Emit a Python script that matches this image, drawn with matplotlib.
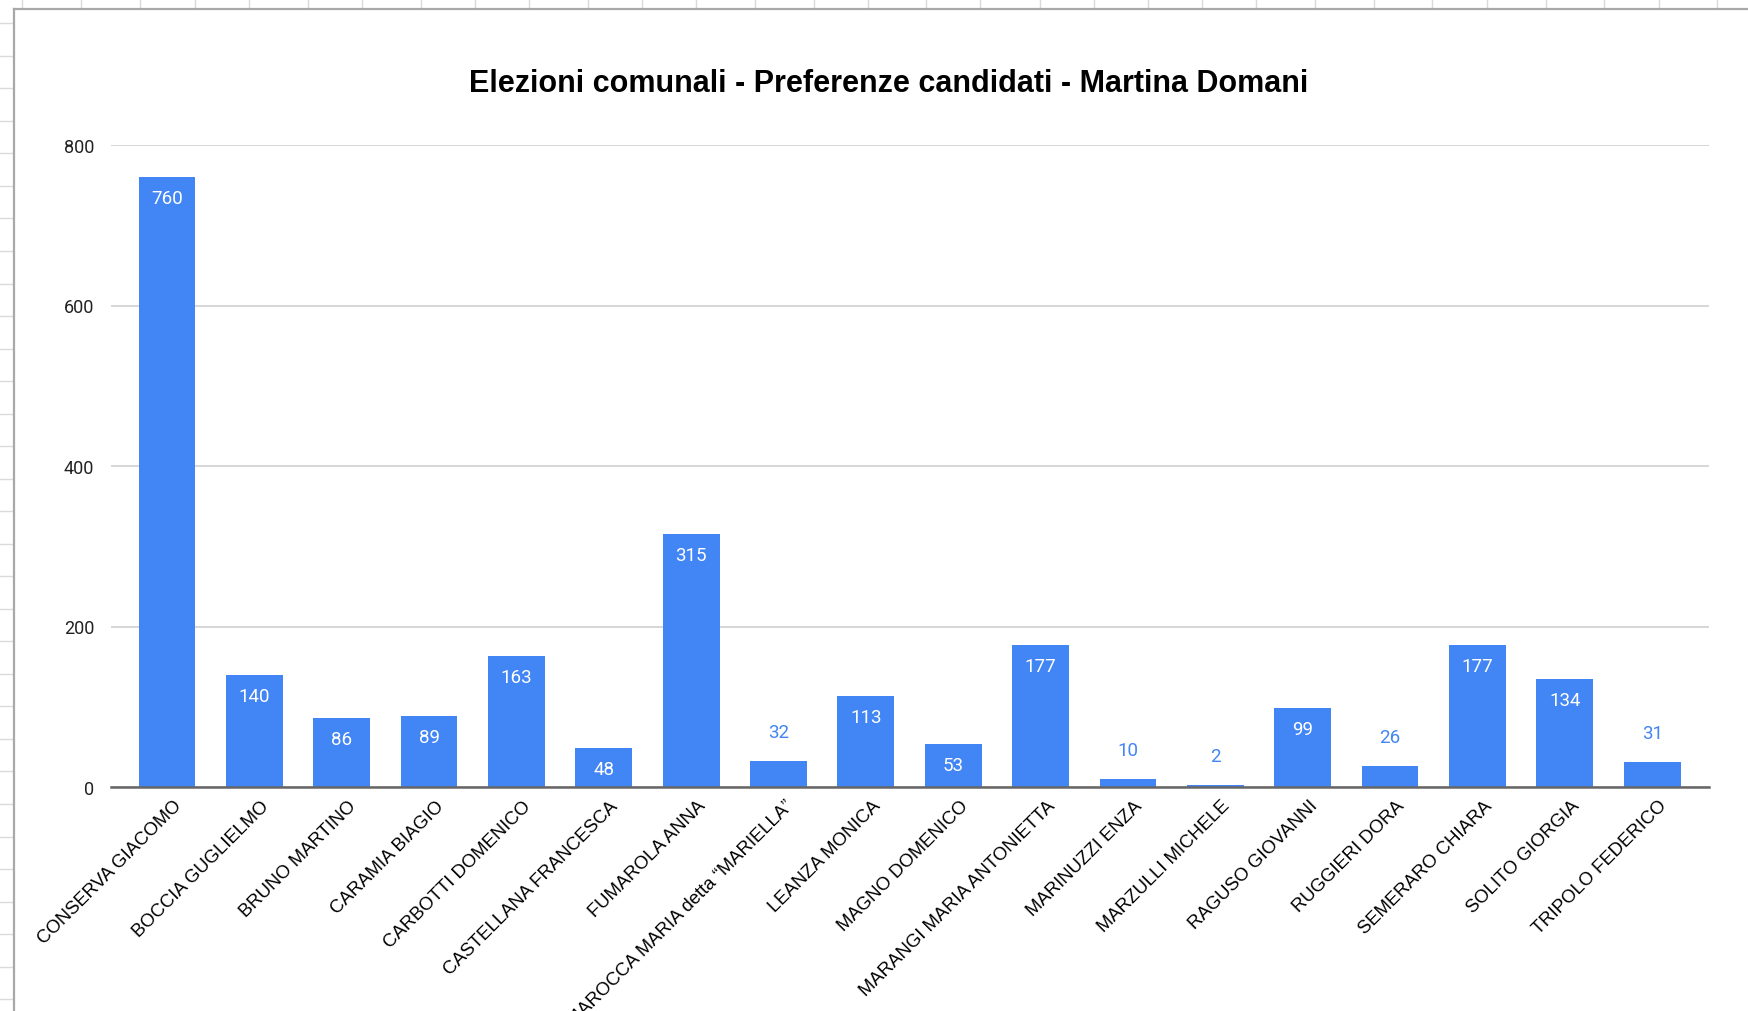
import matplotlib.pyplot as plt
from matplotlib.lines import Line2D
import matplotlib.transforms as mtransforms

candidati = [
    'CONSERVA GIACOMO', 'BOCCIA GUGLIELMO', 'BRUNO MARTINO', 'CARAMIA BIAGIO',
    'CARBOTTI DOMENICO', 'CASTELLANA FRANCESCA', 'FUMAROLA ANNA',
    'MAROCCA MARIA detta \u201cMARIELLA\u201d', 'LEANZA MONICA', 'MAGNO DOMENICO',
    'MARANGI MARIA ANTONIETTA', 'MARINUZZI ENZA', 'MARZULLI MICHELE',
    'RAGUSO GIOVANNI', 'RUGGIERI DORA', 'SEMERARO CHIARA', 'SOLITO GIORGIA',
    'TRIPOLO FEDERICO',
]
preferenze = [760, 140, 86, 89, 163, 48, 315, 32, 113, 53, 177, 10, 2, 99, 26, 177, 134, 31]
y_ticks = [0, 200, 400, 600, 800]

W, H = 1748, 1012
blu = '#4285f4'

fig = plt.figure(figsize=(W / 100, H / 100), dpi=100)
fig.patch.set_facecolor('white')

# griglia del foglio di calcolo dietro al grafico
col_x = [22, 81, 140, 195, 249, 308, 362, 421, 475, 529, 588, 642, 696, 755, 814, 868,
         926, 980, 1040, 1094, 1148, 1202, 1256, 1315, 1374, 1432, 1487, 1546, 1604,
         1659, 1717]
for cx in col_x:
    fig.add_artist(Line2D([cx / W, cx / W], [1, 1 - 10 / H], color='#dadada', lw=1))
for k in range(32):
    ry = 24.3 + 32.53 * k
    fig.add_artist(Line2D([0, 13 / W], [1 - ry / H, 1 - ry / H], color='#dadada', lw=1))

# bordo del grafico
fig.add_artist(Line2D([13.5 / W, 13.5 / W], [0, 1 - 10 / H], color='#a8a8a8', lw=1.6))
fig.add_artist(Line2D([13.5 / W, 1], [1 - 10 / H, 1 - 10 / H], color='#a8a8a8', lw=1.6))

ax = fig.add_axes([111 / W, 1 - 788 / H, (1709 - 111) / W, (788 - 146) / H])
x = list(range(len(candidati)))
ax.bar(x, preferenze, width=0.65, color=blu, zorder=3)

ax.set_xlim(-0.64, len(candidati) - 1 + 0.65)
ax.set_ylim(0, 800)
ax.set_yticks(y_ticks)
ax.set_yticklabels([str(v) for v in y_ticks], fontfamily='Roboto', fontsize=13, color='#222222')
ax.grid(axis='y', color='#d0d0d0', lw=1.2, zorder=0)
for s in ['top', 'right', 'left']:
    ax.spines[s].set_visible(False)
ax.spines['bottom'].set_color('#666666')
ax.spines['bottom'].set_linewidth(1.8)
ax.spines['bottom'].set_zorder(4)
ax.tick_params(axis='both', length=0)
ax.tick_params(axis='y', pad=12)

ax.set_xticks(x)
ax.set_xticklabels(candidati, rotation=45, ha='right', va='top', rotation_mode='anchor',
                   fontfamily='Liberation Sans', fontsize=13.3)
offset = mtransforms.ScaledTranslation(0.06, -0.05, fig.dpi_scale_trans)
for lab in ax.get_xticklabels():
    lab.set_transform(lab.get_transform() + offset)

# etichette dei valori
for xi, v in zip(x, preferenze):
    if v >= 40:
        ax.annotate(str(v), (xi, v), xytext=(0, -21), textcoords='offset pixels',
                    ha='center', va='center', color='white', fontfamily='Roboto',
                    fontsize=13.5, zorder=5)
    else:
        ax.annotate(str(v), (xi, v), xytext=(0, 29), textcoords='offset pixels',
                    ha='center', va='center', color=blu, fontfamily='Roboto',
                    fontsize=13.5, zorder=5)

fig.text(889 / W, 1 - 84 / H, 'Elezioni comunali - Preferenze candidati - Martina Domani',
         ha='center', va='center', fontfamily='Liberation Sans', fontweight='bold',
         fontsize=22, color='black')

fig.savefig('out.png', dpi=100)
